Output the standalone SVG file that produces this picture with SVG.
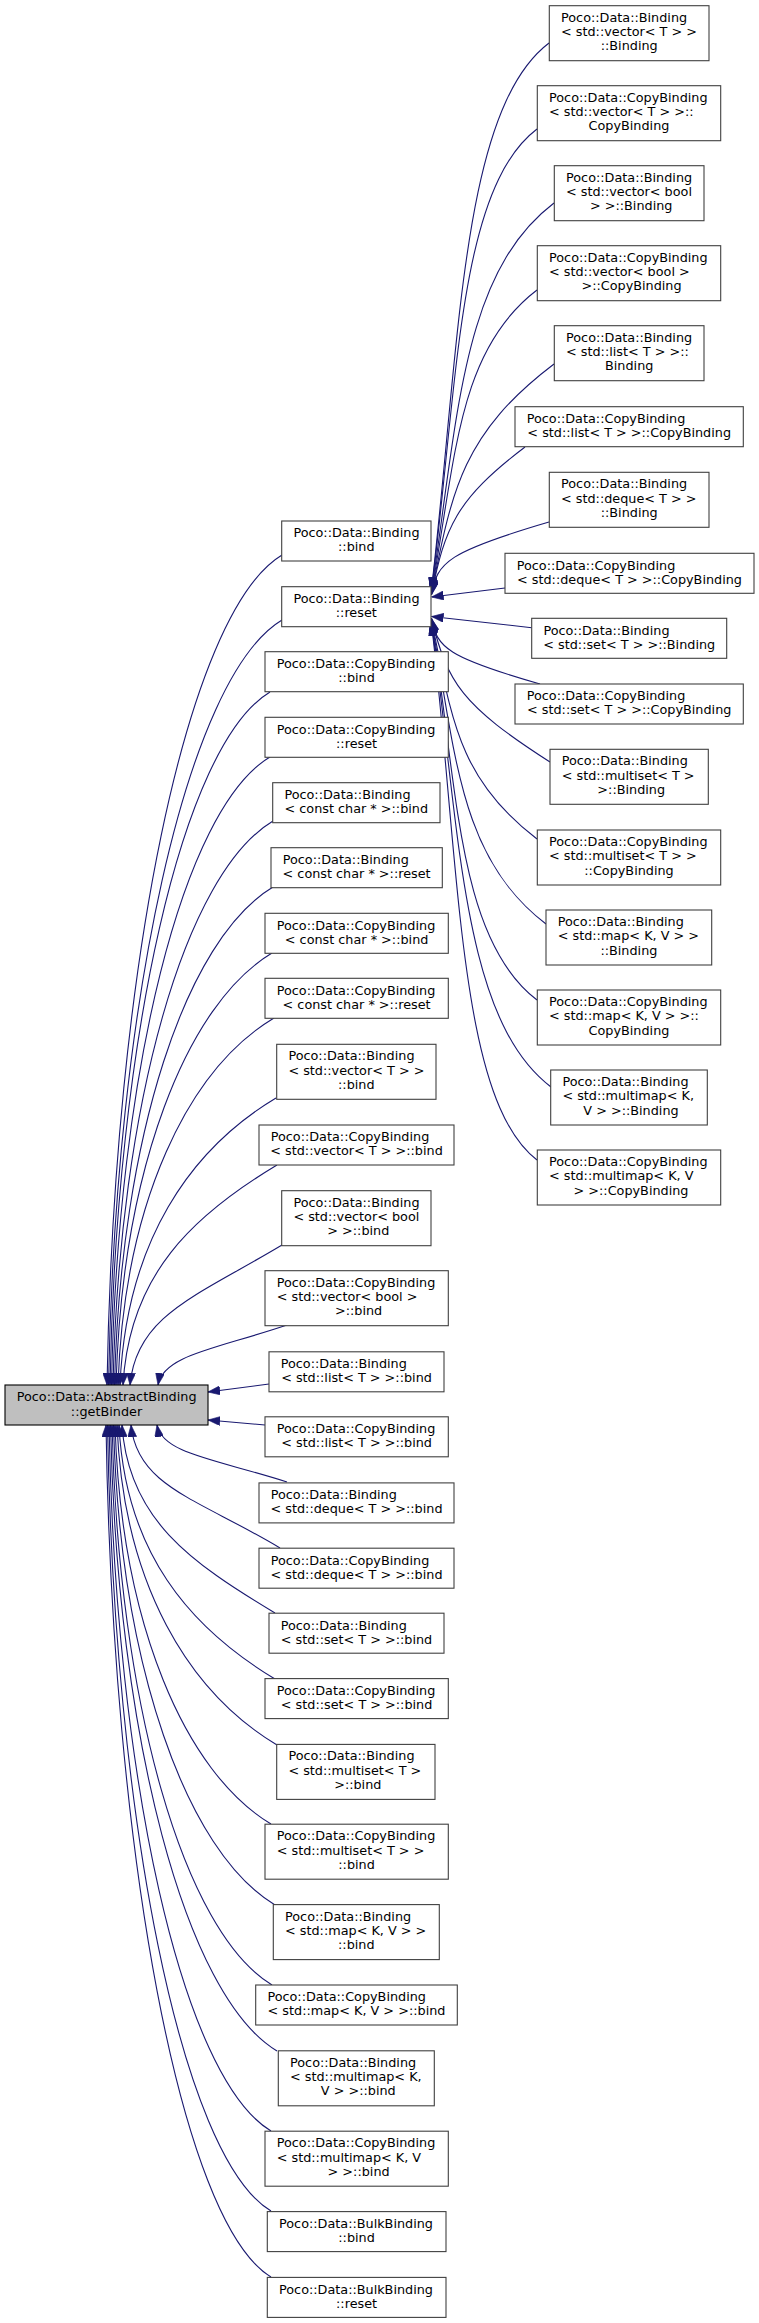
<svg xmlns="http://www.w3.org/2000/svg" width="759" height="2323" viewBox="0 0 759 2323">
<style>
rect{fill:#fff;stroke:#404040;stroke-width:1.1}
#getBinder rect{fill:#bfbfbf;stroke:#000}
text{font-family:"DejaVu Sans","Liberation Sans",sans-serif;font-size:12.8px;fill:#000}
.c{text-anchor:middle}
#edges path{fill:none;stroke:#191970;stroke-width:1.1;marker-end:url(#ah)}
</style>
<defs>
<marker id="ah" viewBox="0 0 12 9" refX="12" refY="4.5" markerWidth="12" markerHeight="9" markerUnits="userSpaceOnUse" orient="auto">
<path d="M0,0 L12,4.5 L0,9 Z" fill="#191970" stroke="#191970" stroke-width="0.6"/>
</marker>
</defs>
<rect x="0" y="0" width="759" height="2323" style="fill:#fff;stroke:none"/>
<g id="edges">
<path d="M282,555 C185.8,612.8 114,970 107,1385"/>
<path d="M282,620 C186.6,677.3 115.4,1002.5 108.5,1385"/>
<path d="M270,692 C182,744.8 116.4,1038.5 110,1385"/>
<path d="M270,757 C182.8,809.3 117.8,1071 111.5,1385"/>
<path d="M273,821 C185,873.8 119.4,1103 113,1385"/>
<path d="M273,887 C185.8,939.3 120.8,1136 114.5,1385"/>
<path d="M272,953 C186.2,1004.5 122.2,1169 116,1385"/>
<path d="M274,1018 C188.2,1069.5 124.2,1201.5 118,1385"/>
<path d="M276,1098 C190.2,1149.5 126.2,1241.5 120,1385"/>
<path d="M277,1165 C192.3,1215.8 129.2,1275 123,1385"/>
<path d="M282,1245 C198.4,1295.2 136.1,1315 130,1385"/>
<path d="M287,1325 C216,1349 163.2,1355 158,1385"/>
<path d="M269,1384 L208,1392"/>
<path d="M265,1425 L208,1420"/>
<path d="M287,1482 C215.5,1459.2 162.2,1453.5 157,1425"/>
<path d="M280,1548 C198,1498.8 137,1486.5 131,1425"/>
<path d="M275,1613 C190.9,1562.5 128.1,1519 122,1425"/>
<path d="M275,1679 C189.2,1627.5 125.2,1552 119,1425"/>
<path d="M277,1745 C189,1692.2 123.4,1585 117,1425"/>
<path d="M271,1824 C185.2,1772.5 121.2,1624.5 115,1425"/>
<path d="M275,1905 C186.2,1851.7 120,1665 113.5,1425"/>
<path d="M272,1985 C184,1932.2 118.4,1705 112,1425"/>
<path d="M277,2051 C185.4,1996.1 117.2,1738 110.5,1425"/>
<path d="M271,2131 C181.9,2077.5 115.5,1778 109,1425"/>
<path d="M271,2211 C181.1,2157 114,1818 107.5,1425"/>
<path d="M271,2277 C180.3,2222.5 112.6,1851 106,1425"/>
<path d="M549,43 C460.9,110 460,343 431.5,589"/>
<path d="M537,129 C457.9,189 458,382.6 431.5,590"/>
<path d="M554,203 C462.1,272.8 458,416.4 431.5,591"/>
<path d="M537,290 C457.9,350.1 456,456.1 431.5,592"/>
<path d="M554,364 C462.1,433.8 452,489.9 431.5,593"/>
<path d="M525,447 C454.9,500.3 445,527.9 431.5,594"/>
<path d="M549,522 C449.1,551.2 436.5,562.2 431.5,595"/>
<path d="M505,588 L431.5,597"/>
<path d="M531.7,627.7 L431.5,616.5"/>
<path d="M540,684 C447.8,657.6 436.5,647.7 431.5,618"/>
<path d="M550,762 C461.1,704.8 448,683.4 431.5,619"/>
<path d="M537,839 C457.9,778.9 452,718.6 431.5,620"/>
<path d="M546,924 C460.1,858.7 456,757.4 431.5,621"/>
<path d="M537,1000 C457.9,939.9 458,792.1 431.5,622"/>
<path d="M551,1087 C461.4,1018.9 460,831.8 431.5,623"/>
<path d="M537,1160 C457.9,1099.9 460,865.2 431.5,624"/>
</g>
<g id="getBinder"><rect x="5" y="1385" width="203" height="40"/><text x="16.7" y="1401.3">Poco::Data::AbstractBinding</text><text class="c" x="106.5" y="1415.6">::getBinder</text></g>
<g id="m1"><rect x="281.7" y="521" width="149.3" height="40"/><text x="293.4" y="537.3">Poco::Data::Binding</text><text class="c" x="356.3" y="551.3">::bind</text></g>
<g id="m2"><rect x="281.7" y="586.7" width="149.3" height="40"/><text x="293.4" y="603">Poco::Data::Binding</text><text class="c" x="356.3" y="617">::reset</text></g>
<g id="m3"><rect x="265" y="651.7" width="183.3" height="40"/><text x="276.7" y="668">Poco::Data::CopyBinding</text><text class="c" x="356.6" y="682">::bind</text></g>
<g id="m4"><rect x="265" y="717.3" width="183.3" height="40"/><text x="276.7" y="733.6">Poco::Data::CopyBinding</text><text class="c" x="356.6" y="747.6">::reset</text></g>
<g id="m5"><rect x="272.7" y="782.7" width="167.3" height="40"/><text x="284.4" y="799">Poco::Data::Binding</text><text class="c" x="356.3" y="813">&lt; const char * &gt;::bind</text></g>
<g id="m6"><rect x="271" y="847.7" width="171.3" height="40"/><text x="282.7" y="864">Poco::Data::Binding</text><text class="c" x="356.6" y="878">&lt; const char * &gt;::reset</text></g>
<g id="m7"><rect x="265" y="913.3" width="183.3" height="40"/><text x="276.7" y="929.6">Poco::Data::CopyBinding</text><text class="c" x="356.6" y="943.6">&lt; const char * &gt;::bind</text></g>
<g id="m8"><rect x="265" y="978.3" width="183.3" height="40"/><text x="276.7" y="994.6">Poco::Data::CopyBinding</text><text class="c" x="356.6" y="1008.6">&lt; const char * &gt;::reset</text></g>
<g id="m9"><rect x="276.7" y="1044.3" width="159.3" height="55"/><text x="288.4" y="1060.3">Poco::Data::Binding</text><text x="288.4" y="1074.6">&lt; std::vector&lt; T &gt; &gt;</text><text class="c" x="356.3" y="1088.9">::bind</text></g>
<g id="m10"><rect x="259" y="1125" width="195" height="40"/><text x="270.7" y="1141.3">Poco::Data::CopyBinding</text><text class="c" x="356.5" y="1155.3">&lt; std::vector&lt; T &gt; &gt;::bind</text></g>
<g id="m11"><rect x="281.7" y="1190.7" width="149.3" height="55"/><text x="293.4" y="1206.7">Poco::Data::Binding</text><text x="293.4" y="1221">&lt; std::vector&lt; bool</text><text class="c" x="358.3" y="1235.3">&gt; &gt;::bind</text></g>
<g id="m12"><rect x="265" y="1270.7" width="183.3" height="55"/><text x="276.7" y="1286.7">Poco::Data::CopyBinding</text><text x="276.7" y="1301">&lt; std::vector&lt; bool &gt;</text><text class="c" x="358.6" y="1315.3">&gt;::bind</text></g>
<g id="m13"><rect x="269" y="1351.8" width="175" height="40"/><text x="280.7" y="1368.1">Poco::Data::Binding</text><text class="c" x="356.5" y="1382.1">&lt; std::list&lt; T &gt; &gt;::bind</text></g>
<g id="m14"><rect x="265" y="1416.8" width="183.3" height="40"/><text x="276.7" y="1433.1">Poco::Data::CopyBinding</text><text class="c" x="356.6" y="1447.1">&lt; std::list&lt; T &gt; &gt;::bind</text></g>
<g id="m15"><rect x="259" y="1482.9" width="195" height="40"/><text x="270.7" y="1499.2">Poco::Data::Binding</text><text class="c" x="356.5" y="1513.2">&lt; std::deque&lt; T &gt; &gt;::bind</text></g>
<g id="m16"><rect x="259" y="1548.2" width="195" height="40"/><text x="270.7" y="1564.5">Poco::Data::CopyBinding</text><text class="c" x="356.5" y="1578.5">&lt; std::deque&lt; T &gt; &gt;::bind</text></g>
<g id="m17"><rect x="269" y="1613.2" width="175" height="40"/><text x="280.7" y="1629.5">Poco::Data::Binding</text><text class="c" x="356.5" y="1643.5">&lt; std::set&lt; T &gt; &gt;::bind</text></g>
<g id="m18"><rect x="265" y="1678.6" width="183.3" height="40"/><text x="276.7" y="1694.9">Poco::Data::CopyBinding</text><text class="c" x="356.6" y="1708.9">&lt; std::set&lt; T &gt; &gt;::bind</text></g>
<g id="m19"><rect x="276.7" y="1744.4" width="158.3" height="55"/><text x="288.4" y="1760.4">Poco::Data::Binding</text><text x="288.4" y="1774.7">&lt; std::multiset&lt; T &gt;</text><text class="c" x="357.8" y="1789">&gt;::bind</text></g>
<g id="m20"><rect x="265" y="1824.2" width="183.3" height="55"/><text x="276.7" y="1840.2">Poco::Data::CopyBinding</text><text x="276.7" y="1854.5">&lt; std::multiset&lt; T &gt; &gt;</text><text class="c" x="356.6" y="1868.8">::bind</text></g>
<g id="m21"><rect x="273.3" y="1904.6" width="166" height="55"/><text x="285" y="1920.6">Poco::Data::Binding</text><text x="285" y="1934.9">&lt; std::map&lt; K, V &gt; &gt;</text><text class="c" x="356.3" y="1949.2">::bind</text></g>
<g id="m22"><rect x="255.7" y="1985" width="201.6" height="40"/><text x="267.4" y="2001.3">Poco::Data::CopyBinding</text><text class="c" x="356.5" y="2015.3">&lt; std::map&lt; K, V &gt; &gt;::bind</text></g>
<g id="m23"><rect x="278.3" y="2050.8" width="156" height="55"/><text x="290" y="2066.8">Poco::Data::Binding</text><text x="290" y="2081.1">&lt; std::multimap&lt; K,</text><text class="c" x="358.3" y="2095.4">V &gt; &gt;::bind</text></g>
<g id="m24"><rect x="265" y="2131.2" width="183.3" height="55"/><text x="276.7" y="2147.2">Poco::Data::CopyBinding</text><text x="276.7" y="2161.5">&lt; std::multimap&lt; K, V</text><text class="c" x="358.6" y="2175.8">&gt; &gt;::bind</text></g>
<g id="m25"><rect x="267.3" y="2211.6" width="178.7" height="40"/><text x="279" y="2227.9">Poco::Data::BulkBinding</text><text class="c" x="356.6" y="2241.9">::bind</text></g>
<g id="m26"><rect x="267.3" y="2277.4" width="178.7" height="40"/><text x="279" y="2293.7">Poco::Data::BulkBinding</text><text class="c" x="356.6" y="2307.7">::reset</text></g>
<g id="r1"><rect x="549.3" y="5.7" width="159.7" height="55"/><text x="561" y="21.7">Poco::Data::Binding</text><text x="561" y="36">&lt; std::vector&lt; T &gt; &gt;</text><text class="c" x="629.2" y="50.3">::Binding</text></g>
<g id="r2"><rect x="537.3" y="85.7" width="183.4" height="55"/><text x="549" y="101.7">Poco::Data::CopyBinding</text><text x="549" y="116">&lt; std::vector&lt; T &gt; &gt;::</text><text class="c" x="629" y="130.3">CopyBinding</text></g>
<g id="r3"><rect x="554.3" y="165.7" width="149.7" height="55"/><text x="566" y="181.7">Poco::Data::Binding</text><text x="566" y="196">&lt; std::vector&lt; bool</text><text class="c" x="631.2" y="210.3">&gt; &gt;::Binding</text></g>
<g id="r4"><rect x="537.3" y="245.7" width="183.4" height="55"/><text x="549" y="261.7">Poco::Data::CopyBinding</text><text x="549" y="276">&lt; std::vector&lt; bool &gt;</text><text class="c" x="631.5" y="290.3">&gt;::CopyBinding</text></g>
<g id="r5"><rect x="554.3" y="325.7" width="149.7" height="55"/><text x="566" y="341.7">Poco::Data::Binding</text><text x="566" y="356">&lt; std::list&lt; T &gt; &gt;::</text><text class="c" x="629.2" y="370.3">Binding</text></g>
<g id="r6"><rect x="515" y="406.7" width="228.3" height="40"/><text x="526.7" y="423">Poco::Data::CopyBinding</text><text class="c" x="629.2" y="437">&lt; std::list&lt; T &gt; &gt;::CopyBinding</text></g>
<g id="r7"><rect x="549.3" y="472.3" width="159.7" height="55"/><text x="561" y="488.3">Poco::Data::Binding</text><text x="561" y="502.6">&lt; std::deque&lt; T &gt; &gt;</text><text class="c" x="629.2" y="516.9">::Binding</text></g>
<g id="r8"><rect x="505" y="553.3" width="249" height="40"/><text x="516.7" y="569.6">Poco::Data::CopyBinding</text><text class="c" x="629.5" y="583.6">&lt; std::deque&lt; T &gt; &gt;::CopyBinding</text></g>
<g id="r9"><rect x="531.7" y="618.3" width="195" height="40"/><text x="543.4" y="634.6">Poco::Data::Binding</text><text class="c" x="629.2" y="648.6">&lt; std::set&lt; T &gt; &gt;::Binding</text></g>
<g id="r10"><rect x="515" y="684" width="228.3" height="40"/><text x="526.7" y="700.3">Poco::Data::CopyBinding</text><text class="c" x="629.2" y="714.3">&lt; std::set&lt; T &gt; &gt;::CopyBinding</text></g>
<g id="r11"><rect x="550" y="749.3" width="158.3" height="55"/><text x="561.7" y="765.3">Poco::Data::Binding</text><text x="561.7" y="779.6">&lt; std::multiset&lt; T &gt;</text><text class="c" x="631.2" y="793.9">&gt;::Binding</text></g>
<g id="r12"><rect x="537.3" y="830" width="183.4" height="55"/><text x="549" y="846">Poco::Data::CopyBinding</text><text x="549" y="860.3">&lt; std::multiset&lt; T &gt; &gt;</text><text class="c" x="629" y="874.6">::CopyBinding</text></g>
<g id="r13"><rect x="546" y="910" width="165.7" height="55"/><text x="557.7" y="926">Poco::Data::Binding</text><text x="557.7" y="940.3">&lt; std::map&lt; K, V &gt; &gt;</text><text class="c" x="628.9" y="954.6">::Binding</text></g>
<g id="r14"><rect x="537.3" y="990" width="183.4" height="55"/><text x="549" y="1006">Poco::Data::CopyBinding</text><text x="549" y="1020.3">&lt; std::map&lt; K, V &gt; &gt;::</text><text class="c" x="629" y="1034.6">CopyBinding</text></g>
<g id="r15"><rect x="550.7" y="1070" width="156.6" height="55"/><text x="562.4" y="1086">Poco::Data::Binding</text><text x="562.4" y="1100.3">&lt; std::multimap&lt; K,</text><text class="c" x="631" y="1114.6">V &gt; &gt;::Binding</text></g>
<g id="r16"><rect x="537.3" y="1150" width="183.4" height="55"/><text x="549" y="1166">Poco::Data::CopyBinding</text><text x="549" y="1180.3">&lt; std::multimap&lt; K, V</text><text class="c" x="631" y="1194.6">&gt; &gt;::CopyBinding</text></g>
</svg>
